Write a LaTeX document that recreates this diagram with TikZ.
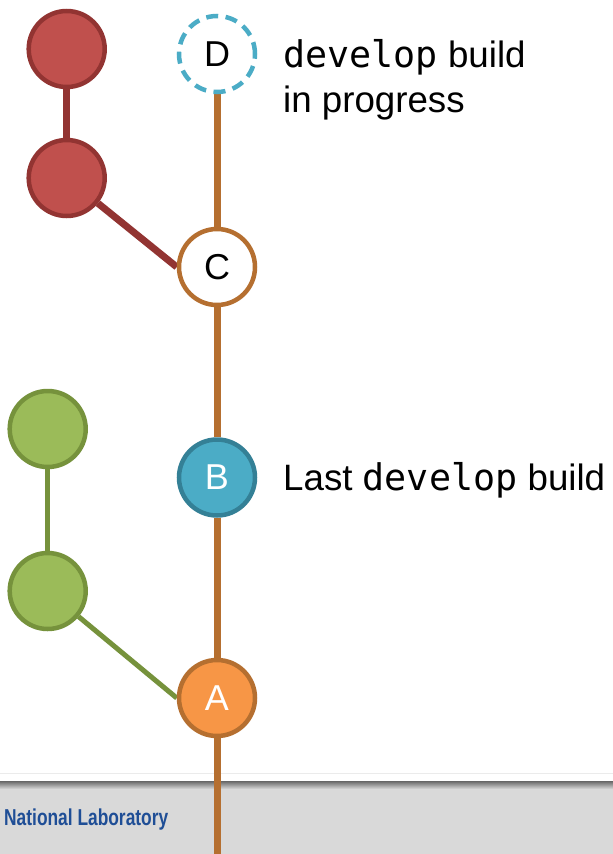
\documentclass[tikz,border=0pt]{standalone}
\usepackage{fontspec}
\setmainfont{Liberation Sans}
\setmonofont{DejaVu Sans Mono}
\usetikzlibrary{backgrounds}
\definecolor{redfill}{RGB}{192,80,77}
\definecolor{redline}{RGB}{146,52,50}
\definecolor{orline}{RGB}{181,111,48}
\definecolor{orfill}{RGB}{247,150,70}
\definecolor{bluefill}{RGB}{75,172,198}
\definecolor{blueline}{RGB}{52,128,150}
\definecolor{grnfill}{RGB}{155,187,89}
\definecolor{grnline}{RGB}{118,146,60}
\definecolor{bandgray}{RGB}{217,217,217}
\definecolor{labblue}{RGB}{31,78,150}
\tikzset{
  commit/.style={circle, minimum size=76pt, inner sep=0pt, line width=4.5pt,
    font=\fontsize{36}{40}\selectfont},
  label36/.style={anchor=base west, inner sep=0pt, font=\fontsize{36.7}{40}\selectfont},
  branchline/.style={line width=7pt},
}
\begin{document}
\begin{tikzpicture}[x=1pt,y=-1pt]
\useasboundingbox (0,0) rectangle (613,854);
% commits
\node[commit, draw=redline, fill=redfill] (r1) at (66.7,49) {};
\node[commit, draw=redline, fill=redfill] (r2) at (66.7,178) {};
\node[commit, draw=bluefill, fill=white, dash pattern=on 12pt off 7.5pt] (D) at (217,54) {D};
\node[commit, draw=orline, fill=white] (C) at (217,267) {C};
\node[commit, draw=blueline, fill=bluefill, text=white] (B) at (217,477.5) {B};
\node[commit, draw=grnline, fill=grnfill] (g1) at (47.7,429) {};
\node[commit, draw=grnline, fill=grnfill] (g2) at (47.7,591) {};
\node[commit, draw=orline, fill=orfill, text=white] (A) at (217,698) {A};
\coordinate (bottom) at (217,854);
% labels
\node[label36] (dl1) at (283,67) {\texttt{develop} build};
\node[label36] (dl2) at (283,112) {in progress};
\node[label36] (bl) at (283,490) {Last \texttt{develop} build};
\node[anchor=base west, inner sep=0pt, text=labblue,
  font=\fontsize{23}{26}\selectfont\bfseries] (lab) at (4,825)
  {\scalebox{0.755}[1]{National Laboratory}};
% footer band and connectors behind the commits
\begin{scope}[on background layer]
\fill[white] (0,0) rectangle (613,854);
\fill[bandgray] (0,782) rectangle (613,854);
\draw[line width=1pt, color=black!8] (0,773.5) -- (613,773.5);
\shade[top color=black!60, bottom color=bandgray] (0,781) rectangle (613,789);
\draw[branchline, orline] (D) -- (C);
\draw[branchline, orline] (C) -- (B);
\draw[branchline, orline] (B) -- (A);
\draw[branchline, orline] (A) -- (bottom);
\draw[branchline, redline] (r1) -- (r2);
\draw[branchline, redline] (r2) -- (C.west);
\draw[line width=5pt, grnline] (g1) -- (g2);
\draw[line width=5pt, grnline] (g2) -- (A.west);
\end{scope}
\end{tikzpicture}
\end{document}
